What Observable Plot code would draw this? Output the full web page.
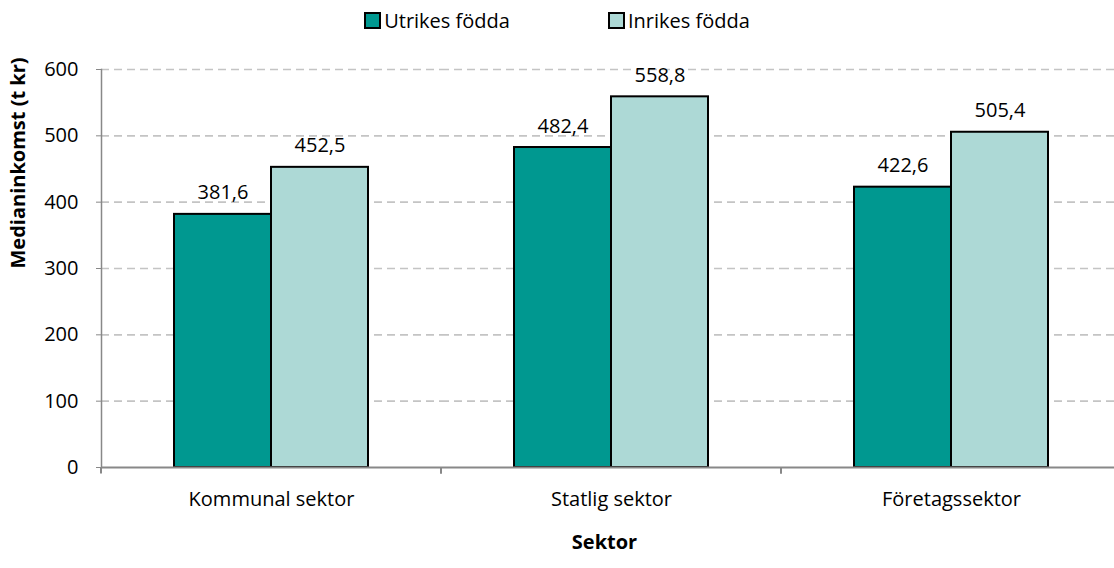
<!DOCTYPE html>
<html><head><meta charset="utf-8">
<script src="https://cdn.jsdelivr.net/npm/d3@7"></script>
<script src="https://cdn.jsdelivr.net/npm/@observablehq/plot@0.6"></script>
<style>
body{margin:0;background:#fff;font-family:"Open Sans",sans-serif;overflow:hidden;}
#legend{height:40px;display:flex;justify-content:center;align-items:center;font-size:20px;color:#000;}
.item{display:flex;align-items:center;margin:0 49px;}
.sw{width:13px;height:13px;border:2px solid #000;margin-right:3px;}
</style></head><body>
<div id="legend"></div><div id="chart"></div>
<script>
const sectors = ["Kommunal sektor", "Statlig sektor", "Företagssektor"];
const groups = ["Utrikes födda", "Inrikes födda"];
const utrikes = [381.6, 482.4, 422.6];
const inrikes = [452.5, 558.8, 505.4];
const colors = ["#009890", "#ADD9D6"];
const yTicks = [0, 100, 200, 300, 400, 500, 600];
const yLabel = "Medianinkomst (t kr)";
const xLabel = "Sektor";

const data = sectors.flatMap((s, i) => [
  {sector: s, group: groups[0], value: utrikes[i]},
  {sector: s, group: groups[1], value: inrikes[i]}
]);
const fmt = v => v.toFixed(1).replace(".", ",");

const legend = document.getElementById("legend");
groups.forEach((g, i) => {
  const it = document.createElement("div"); it.className = "item";
  const sw = document.createElement("div"); sw.className = "sw"; sw.style.background = colors[i];
  const t = document.createElement("span"); t.textContent = g;
  it.append(sw, t); legend.append(it);
});

function edgeTicks(index, scales, values, dimensions, context, next) {
  const g = next(index, scales, values, dimensions, context);
  const line = g.querySelector("line");
  if (line) {
    const x1 = +line.getAttribute("x1"), x2 = +line.getAttribute("x2"), y = +line.getAttribute("y1");
    for (const x of [x1, x2]) {
      const l = document.createElementNS("http://www.w3.org/2000/svg", "line");
      l.setAttribute("x1", x); l.setAttribute("x2", x);
      l.setAttribute("y1", y); l.setAttribute("y2", y + 6);
      g.appendChild(l);
    }
  }
  return g;
}

const chart = Plot.plot({
  width: 1114, height: 528,
  marginLeft: 101, marginRight: -7, marginTop: 29, marginBottom: 101,
  style: {fontFamily: "Open Sans", fontSize: "20px", color: "#000", background: "#fff", overflow: "hidden"},
  fx: {domain: sectors, padding: 0, axis: null},
  x: {domain: groups, paddingInner: 0, paddingOuter: 0.75, axis: null},
  y: {domain: [0, 600], axis: null},
  color: {domain: groups, range: colors},
  marks: [
    Plot.gridY(yTicks.slice(1), {stroke: "#c4c4c4", strokeOpacity: 1, strokeDasharray: "8,5", strokeWidth: 1.6}),
    Plot.barY(data, {fx: "sector", x: "group", y: "value", fill: "group", stroke: "#000", strokeWidth: 2}),
    Plot.text(data, {fx: "sector", x: "group", y: "value", text: d => fmt(d.value), lineAnchor: "bottom", dy: -15, fill: "#000"}),
    Plot.axisY(yTicks, {tickSize: 5, stroke: "#888", tickPadding: 18, fill: "#000", label: null}),
    Plot.axisFx({anchor: "bottom", tickSize: 0, tickPadding: 24, label: null, fill: "#000"}),
    Plot.frame({anchor: "left", facet: "super", stroke: "#888", strokeWidth: 1.5}),
    Plot.ruleY([0], {stroke: "#888", strokeWidth: 2, render: edgeTicks}),
    Plot.text([xLabel], {frameAnchor: "bottom", facet: "super", dy: 81, dx: -7, fontWeight: "bold", fill: "#000"}),
    Plot.text([yLabel], {frameAnchor: "left", rotate: -90, dx: -83, facet: "super", fontWeight: "bold", fill: "#000"})
  ]
});
document.getElementById("chart").append(chart);
</script>
</body></html>
